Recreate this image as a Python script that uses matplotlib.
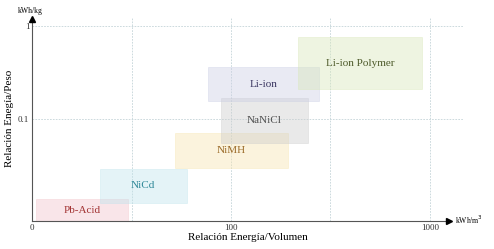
import numpy as np
import matplotlib
matplotlib.use('Agg')
import matplotlib.pyplot as plt

# battery technologies, energy per volume (x) and per mass (y) ranges
names = ['Pb-Acid', 'NiCd', 'NiMH', 'NaNiCl', 'Li-ion', 'Li-ion Polymer']
vol_lo = [1.1, 4.8, 27.4, 79, 58.7, 471]
vol_hi = [9.2, 36, 374, 594, 766, 8310]
mass_lo = [0.008, 0.0125, 0.0297, 0.0552, 0.156, 0.210]
mass_hi = [0.0138, 0.029, 0.0707, 0.168, 0.362, 0.761]
face_colors = ['#f2c2cb', '#bfe3ec', '#f7e4ae', '#cccccc', '#cbcee3', '#d7e7b8']
text_colors = ['#a33535', '#2f8898', '#9a6a28', '#505050', '#3a3560', '#4d5a2a']

x_ticks = [1, 100, 10000]
x_ticklabels = ['0', '100', '1000']
y_ticks = [0.1, 1]
y_ticklabels = ['0.1', '1']

plt.rcParams['font.family'] = ['Liberation Serif', 'DejaVu Serif']

fig = plt.figure(figsize=(4.94, 2.49), dpi=100)
W, H = 494, 249
ax = fig.add_axes([32 / W, (H - 221) / H, (463 - 32) / W, (221 - 15) / H])
ax.set_xscale('log')
ax.set_yscale('log')
x_right = 10 ** ((463 - 32) / 99.5)
y_bottom = 10 ** (-195 / 93)
ax.set_xlim(1, x_right)
ax.set_ylim(y_bottom, 10 ** (11 / 93))

# grid
for xv in [10, 100, 1000, 10000]:
    ax.plot([xv, xv], [y_bottom, 10 ** (9 / 93)], color='#c4d4d8',
            lw=0.6, ls=(0, (2, 1.5)), zorder=0)
for yv in [0.1, 1]:
    ax.plot([1, x_right], [yv, yv], color='#c4d4d8', lw=0.6, ls=(0, (2, 1.5)), zorder=0)

# boxes
for i, n in enumerate(names):
    ax.fill_between([vol_lo[i], vol_hi[i]], mass_lo[i], mass_hi[i],
                    facecolor=face_colors[i], alpha=0.42,
                    edgecolor=face_colors[i], lw=0.6, zorder=2 + i * 0.1)
    xc = np.sqrt(vol_lo[i] * vol_hi[i])
    yc = np.sqrt(mass_lo[i] * mass_hi[i])
    ax.text(xc, yc, n, color=text_colors[i], fontsize=8, ha='center', va='center', zorder=5)

# axes lines with arrows
for s in ['top', 'right']:
    ax.spines[s].set_visible(False)
x_arrow = 10 ** ((449 - 32) / 99.5)
y_arrow = 10 ** (7 / 93)
ax.spines['bottom'].set_bounds(1, x_arrow)
ax.spines['left'].set_bounds(y_bottom, y_arrow)
ax.spines['left'].set_color('#555555')
ax.spines['bottom'].set_color('#555555')
ax.spines['left'].set_linewidth(0.8)
ax.spines['bottom'].set_linewidth(0.8)
ax.plot([x_arrow], [y_bottom], marker='>', color='black', ms=4, clip_on=False, zorder=6)
ax.plot([1], [y_arrow], marker='^', color='black', ms=4, clip_on=False, zorder=6)

ax.set_xticks(x_ticks)
ax.set_xticklabels(x_ticklabels)
ax.set_yticks(y_ticks)
ax.set_yticklabels(y_ticklabels)
ax.minorticks_off()
ax.tick_params(length=0, labelsize=6.5, pad=2, colors='#333333')

ax.set_xlabel('Relación Energía/Volumen', fontsize=8, labelpad=1)
ax.set_ylabel('Relación Enegía/Peso', fontsize=8, labelpad=3)

fig.text(30 / W, 1 - 11 / H, 'kWh/kg', fontsize=5.5, ha='center', va='center')
fig.text(455 / W, 1 - 220 / H, 'kWh/m$^3$', fontsize=5.5, ha='left', va='center')

fig.savefig('out.png', dpi=100)
